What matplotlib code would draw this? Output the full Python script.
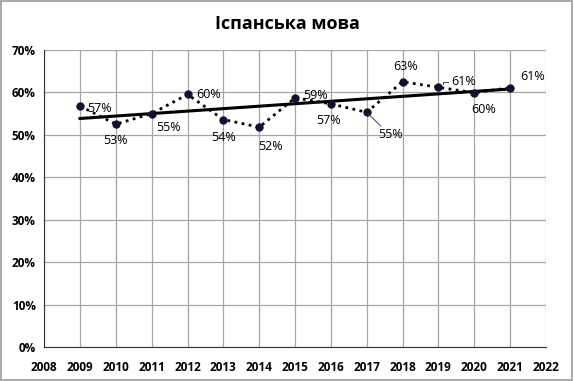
import matplotlib
matplotlib.use("Agg")
import matplotlib.pyplot as plt
import numpy as np
from matplotlib.ticker import PercentFormatter

years = [2009, 2010, 2011, 2012, 2013, 2014, 2015, 2016, 2017, 2018, 2019, 2020, 2021]
values = [56.8, 52.5, 55.0, 59.5, 53.6, 51.8, 58.7, 57.3, 55.3, 62.5, 61.2, 59.9, 61.1]
labels = ["57%", "53%", "55%", "60%", "54%", "52%", "59%", "57%", "55%", "63%", "61%", "60%", "61%"]
# label offsets in points (dx, dy)
offsets = [(14, -2), (0, -12), (12, -10), (15, 0), (0, -13), (8, -14), (15, 2),
           (-2, -12), (17, -16), (2, 11), (18, 4), (7, -12), (16, 8)]

plt.rcParams['font.family'] = ['Open Sans', 'DejaVu Sans']

fig = plt.figure(figsize=(5.74, 3.81), dpi=100)
ax = fig.add_axes([0.077, 0.089, 0.874, 0.78])

ax.plot(years, values, linestyle=(0, (1, 1.6)), color='black', linewidth=2,
        marker='o', markersize=5, markerfacecolor='#0d1330', markeredgecolor='#0d1330', zorder=3)

k, b = np.polyfit(years, values, 1)
tx = np.array([years[0], years[-1]])
ax.plot(tx, k * tx + b, color='black', linewidth=2.2, zorder=2)

for x, y, t, (dx, dy) in zip(years, values, labels, offsets):
    ax.annotate(t, (x, y), xytext=(dx, dy), textcoords='offset points',
                ha='center', va='center', fontsize=9)
# leader lines
ax.annotate("", (2017, values[8]), xytext=(2017.45, 51.6),
            arrowprops=dict(arrowstyle='-', color='#444444', lw=0.7))
ax.plot([2019.12, 2019.28], [62.4, 62.4], color='#444444', lw=0.7)
ax.plot([2019.12, 2019.12], [62.4, 61.9], color='#444444', lw=0.7)

ax.set_xlim(2008, 2022)
ax.set_ylim(0, 70)
ax.set_xticks(range(2008, 2023))
ax.set_yticks(range(0, 71, 10))
ax.yaxis.set_major_formatter(PercentFormatter(decimals=0))
ax.grid(True, color='#a6a6a6', linewidth=0.9)
ax.set_axisbelow(True)
for s in ['top', 'right']:
    ax.spines[s].set_visible(False)
ax.spines['left'].set_color('#333333')
ax.spines['bottom'].set_color('#333333')
ax.tick_params(length=0, labelsize=8.5, pad=6)
for lab in ax.get_xticklabels() + ax.get_yticklabels():
    lab.set_fontweight('bold')
ax.tick_params(axis='x', pad=10)

fig.suptitle("Іспанська мова", y=0.96, fontsize=13, fontweight='bold')

fig.patches.append(plt.Rectangle((0.002, 0.003), 0.995, 0.994, transform=fig.transFigure,
                                 fill=False, edgecolor='#9a9a9a', linewidth=1.2))

fig.savefig("out.png", dpi=100)
